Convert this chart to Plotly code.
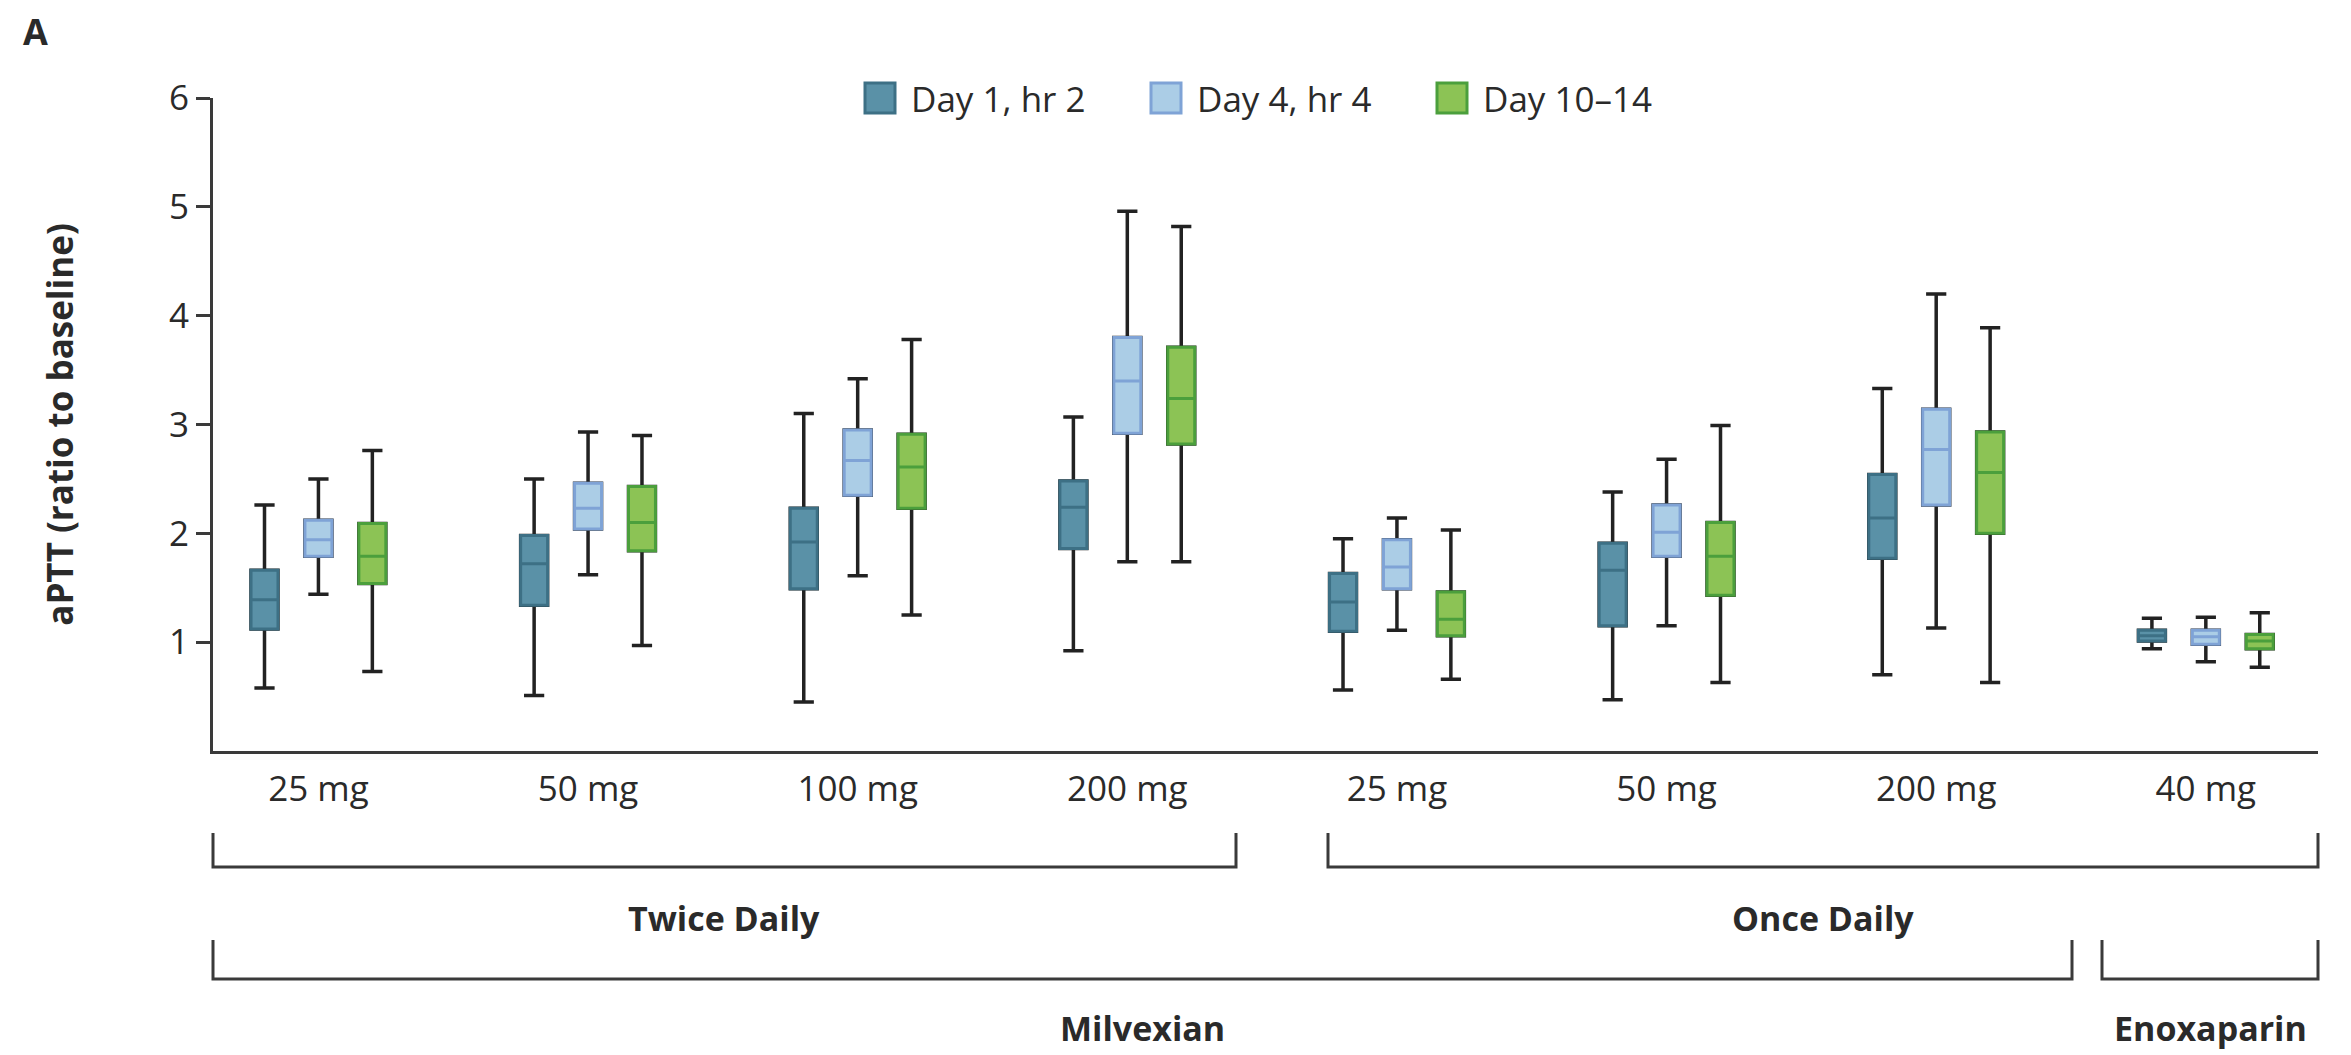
import plotly.graph_objects as go

# ---------------- data ----------------
categories = ["25 mg", "50 mg", "100 mg", "200 mg", "25 mg", "50 mg", "200 mg", "40 mg"]
series = ["Day 1, hr 2", "Day 4, hr 4", "Day 10–14"]

d1_low  = [0.58, 0.51, 0.45, 0.92, 0.56, 0.47, 0.70, 0.94]
d1_q1   = [1.12, 1.34, 1.49, 1.86, 1.10, 1.15, 1.77, 1.01]
d1_med  = [1.39, 1.72, 1.92, 2.24, 1.37, 1.66, 2.14, 1.06]
d1_q3   = [1.66, 1.98, 2.23, 2.48, 1.63, 1.91, 2.54, 1.11]
d1_high = [2.26, 2.50, 3.10, 3.07, 1.95, 2.38, 3.33, 1.22]

d4_low  = [1.44, 1.62, 1.61, 1.74, 1.11, 1.15, 1.13, 0.82]
d4_q1   = [1.79, 2.04, 2.35, 2.92, 1.49, 1.79, 2.26, 0.98]
d4_med  = [1.94, 2.23, 2.67, 3.40, 1.69, 2.01, 2.77, 1.05]
d4_q3   = [2.12, 2.46, 2.95, 3.80, 1.94, 2.26, 3.14, 1.11]
d4_high = [2.50, 2.93, 3.42, 4.96, 2.14, 2.68, 4.20, 1.23]

d10_low  = [0.73, 0.97, 1.25, 1.74, 0.66, 0.63, 0.63, 0.77]
d10_q1   = [1.54, 1.84, 2.23, 2.82, 1.06, 1.43, 2.00, 0.94]
d10_med  = [1.79, 2.10, 2.61, 3.24, 1.21, 1.79, 2.56, 1.01]
d10_q3   = [2.09, 2.43, 2.91, 3.71, 1.46, 2.10, 2.93, 1.07]
d10_high = [2.76, 2.90, 3.78, 4.82, 2.03, 2.99, 3.89, 1.27]

y_ticks = [1, 2, 3, 4, 5, 6]

# ---------------- style ----------------
W, H = 2351, 1055
ML, MR, MT, MB = 205, 41, 90, 312
FONT = "Open Sans, Noto Sans, sans-serif"
TXT = "#2a2a2a"
AX = "#3a3a3a"
fills = ["#5a91a7", "#abcde6", "#8cc355"]
edges = ["#3d7085", "#7fa3d6", "#4b9f3c"]
offsets = [-0.2, 0.0, 0.2]
stats = [
    (d1_low, d1_q1, d1_med, d1_q3, d1_high),
    (d4_low, d4_q1, d4_med, d4_q3, d4_high),
    (d10_low, d10_q1, d10_med, d10_q3, d10_high),
]

pw, ph = W - ML - MR, H - MT - MB
def PX(px):
    return (px - ML) / pw
def PY(py):
    return (H - MB - py) / ph

fig = go.Figure()
idx = list(range(len(categories)))
for s, (lo, q1, med, q3, hi) in enumerate(stats):
    xs = [i + offsets[s] for i in idx]
    # whiskers (black)
    fig.add_trace(go.Box(
        x=xs, q1=q1, median=med, q3=q3, lowerfence=lo, upperfence=hi,
        name=series[s], width=0.1, whiskerwidth=0.75, boxpoints=False,
        line=dict(color="#222222", width=3.5), fillcolor=fills[s],
        showlegend=False, hoverinfo="skip",
    ))
    # coloured box on top
    fig.add_trace(go.Box(
        x=xs, q1=q1, median=med, q3=q3, lowerfence=q1, upperfence=q3,
        name=series[s], width=0.1, whiskerwidth=0, boxpoints=False,
        line=dict(color=edges[s], width=3), fillcolor=fills[s],
        showlegend=False,
    ))

shapes = []
annotations = []

# manual legend
leg_sq = [857, 1143, 1429]
for s in range(3):
    shapes.append(dict(type="rect", xref="paper", yref="paper",
                       x0=PX(leg_sq[s]), x1=PX(leg_sq[s] + 30),
                       y0=PY(105), y1=PY(75),
                       fillcolor=fills[s], line=dict(color=edges[s], width=3)))
    annotations.append(dict(xref="paper", yref="paper", x=PX(leg_sq[s] + 44), y=PY(90),
                            text=series[s], showarrow=False, xanchor="left", yanchor="middle",
                            font=dict(family=FONT, size=35, color=TXT)))

# brackets
def bracket(x0, x1, ytop, ybot):
    shapes.append(dict(type="path", xref="paper", yref="paper",
                       path=f"M {PX(x0)},{PY(ytop)} L {PX(x0)},{PY(ybot)} L {PX(x1)},{PY(ybot)} L {PX(x1)},{PY(ytop)}",
                       line=dict(color=AX, width=3)))

bracket(205, 1228, 825, 859)
bracket(1320, 2310, 825, 859)
bracket(205, 2064, 932, 971)
bracket(2094, 2310, 932, 971)

for txt, cx, cy in [("Twice Daily", 716, 910), ("Once Daily", 1815, 910),
                    ("Milvexian", 1134, 1020), ("Enoxaparin", 2202, 1020)]:
    annotations.append(dict(xref="paper", yref="paper", x=PX(cx), y=PY(cy), text=f"<b>{txt}</b>",
                            showarrow=False, xanchor="center", yanchor="middle",
                            font=dict(family=FONT, size=34, color=TXT)))

annotations.append(dict(xref="paper", yref="paper", x=PX(27), y=PY(24), text="<b>A</b>",
                        showarrow=False, xanchor="center", yanchor="middle",
                        font=dict(family=FONT, size=36, color=TXT)))

fig.update_layout(
    width=W, height=H,
    margin=dict(l=ML, r=MR, t=MT, b=MB),
    plot_bgcolor="white", paper_bgcolor="white",
    boxmode="overlay",
    shapes=shapes, annotations=annotations,
    font=dict(family=FONT, size=35, color=TXT),
)
fig.update_xaxes(
    range=[-0.391, 7.416], tickvals=idx, ticktext=categories,
    showline=True, linecolor=AX, linewidth=3, ticks="", showgrid=False, zeroline=False,
    ticklabelstandoff=5, tickfont=dict(family=FONT, size=35, color=TXT),
)
fig.update_yaxes(
    range=[0, 6], tickvals=y_ticks, ticks="outside", ticklen=14, tickwidth=3, tickcolor=AX,
    showline=True, linecolor=AX, linewidth=3, showgrid=False, zeroline=False,
    tickfont=dict(family=FONT, size=35, color=TXT),
    title=dict(text="<b>aPTT (ratio to baseline)</b>", standoff=85,
               font=dict(family=FONT, size=35, color=TXT)),
)

fig.write_html("out.html")
